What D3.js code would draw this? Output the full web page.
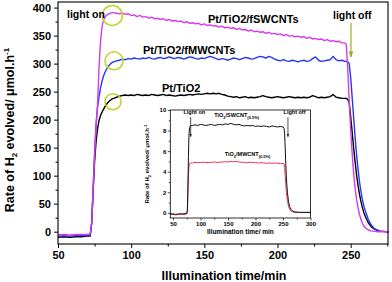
<!DOCTYPE html>
<html><head><meta charset="utf-8">
<script src="https://cdn.jsdelivr.net/npm/d3@7"></script>
<style>
body{margin:0;background:#fff;}
svg{display:block;font-family:"Liberation Sans",Arial,sans-serif;font-weight:bold;}
</style></head><body>
<svg id="c" width="392" height="282"></svg>
<script>
// ---------- main chart data ----------
const mainTime = [50,54,58,62,66,70,72,73,74,75,76,77,78,79,80,81,82,83,84,85,86,87,88,89,90,
92,94,96,98,100,102,104,106,108,110,
112,114,116,118,120,122,124,126,128,130,
132,134,136,138,140,142,144,146,148,150,
152,154,156,158,160,162,164,166,168,170,
172,174,176,178,180,182,184,186,188,190,
192,194,196,198,200,202,204,206,208,210,
212,214,216,218,220,222,224,226,228,230,
232,234,236,238,240,242,244,246,
247,248,249,250,251,252,253,254,255,256,257,258,259,260,262,264,266,268,270,272,274,276];

const ptTiO2 = [-10,-9,-10,-9,-9,-8,-8,15,72,125,160,183,198,207,213,218,223,227,230,233,235,237,238,239,240,
242,243,244,243,244,243,245,244,243,244,
243,245,244,243,244,245,243,244,243,242,
243,244,243,244,245,244,245,246,245,246,
247,246,247,246,247,245,244,242,241,240,
241,239,240,241,239,240,239,240,241,243,
241,240,239,240,241,240,239,240,241,240,
239,240,239,240,239,240,243,241,239,240,
239,240,241,245,240,239,238,238,
238,236,230,205,178,150,125,102,83,67,54,43,34,27,16,9,5,2.5,1,0.5,0,0];

const ptMWCNT = [-8,-7,-8,-7,-7,-7,-6,15,75,140,192,222,240,256,268,277,284,289,294,297,300,302,303,304,305,
306,308,307,309,308,310,309,308,310,309,
311,309,308,310,311,309,310,312,310,309,
311,310,308,310,312,311,309,308,310,309,
311,313,311,309,307,309,308,306,308,310,
309,307,309,311,310,308,309,311,313,312,
310,313,311,308,306,305,307,305,304,306,
305,303,305,306,304,305,309,312,306,304,
305,306,307,313,307,305,306,304,
304,303,300,275,240,205,170,138,112,90,72,57,46,37,22,12,6,3,1,0.5,0,0];

const ptSWCNT = [-6,-5,-6,-5,-5,-5,-4,15,75,135,185,225,290,338,364,377,383,386,388,389,390,391,391,390,390,
389,390,388,389,386,387,384,386,383,384,
381,383,380,381,379,380,377,379,376,377,
375,376,373,375,372,373,371,372,369,371,
368,369,367,368,365,367,364,365,363,364,
361,363,360,361,358,360,357,358,356,357,
354,356,353,354,352,353,350,352,349,350,
348,349,347,348,345,347,344,345,343,344,
341,343,340,341,339,340,337,337,
334,290,232,182,140,105,78,58,43,31,22,15,10,7,3,1.5,0.5,0,0,0,0,0];

const seriesNames = ["Pt/TiO2/fSWCNTs","Pt/TiO2/fMWCNTs","Pt/TiO2"];
const seriesColors = ["#d83ae8","#2339f5","#000000"];
const xTicks = [50,100,150,200,250];
const yTicks = [0,50,100,150,200,250,300,350,400];

// ---------- inset data ----------
const insetTime = [45,50,55,60,65,70,75,76,77,78,79,80,82,
85,90,95,100,105,110,115,120,125,130,135,140,145,150,155,160,165,170,175,180,185,190,195,200,205,210,215,220,225,230,235,240,245,250,
252,253,254,255,256,257,258,260,262,265,270,280,290,300];
const insetSWCNT = [-0.1,-0.1,-0.15,-0.1,-0.1,-0.1,-0.05,0.2,2.5,5.5,7.6,8.3,8.45,
8.5,8.55,8.5,8.6,8.55,8.5,8.55,8.6,8.5,8.55,8.6,8.55,8.65,8.6,8.7,8.6,8.55,8.6,8.5,8.45,8.5,8.45,8.5,8.4,8.45,8.4,8.45,8.4,8.35,8.45,8.4,8.35,8.4,8.35,
8.2,7.6,6.3,4.8,3.6,2.7,2.0,1.1,0.6,0.3,0.1,0.05,0.05,0.05];
const insetMWCNT = [-0.15,-0.15,-0.2,-0.15,-0.15,-0.15,-0.1,0.1,1.8,3.6,4.5,4.8,4.85,
4.85,4.9,4.88,4.9,4.92,4.9,4.88,4.92,4.95,4.9,4.92,4.95,4.97,4.95,5.0,4.97,5.0,4.95,4.92,4.9,4.88,4.92,4.9,4.88,4.85,4.88,4.85,4.82,4.85,4.82,4.85,4.82,4.8,4.82,
4.75,4.4,3.6,2.8,2.1,1.6,1.2,0.65,0.35,0.15,0.05,0.03,0.03,0.03];
const insetXTicks = [50,100,150,200,250,300];
const insetYTicks = [0,2,4,6,8,10];

// ---------- drawing ----------
const svg = d3.select("#c");
const M = {l:58, r:388, t:2, b:244};
const x = d3.scaleLinear().domain([50,275.5]).range([M.l,M.r]);
const y = d3.scaleLinear().domain([-22,410]).range([M.b,M.t]);

// axes
const xAxis = svg.append("g").attr("transform",`translate(0,${M.b})`)
  .call(d3.axisBottom(x).tickValues(xTicks).tickSize(4).tickPadding(3).tickFormat(d3.format("d")));
svg.append("g").attr("transform",`translate(0,${M.b})`)
  .call(d3.axisBottom(x).tickValues([75,125,175,225,275]).tickSize(2.5).tickFormat(""));
const yAxis = svg.append("g").attr("transform",`translate(${M.l},0)`)
  .call(d3.axisLeft(y).tickValues(yTicks).tickSize(4).tickPadding(3).tickFormat(d3.format("d")));
svg.append("g").attr("transform",`translate(${M.l},0)`)
  .call(d3.axisLeft(y).tickValues([25,75,125,175,225,275,325,375,-25].filter(v=>v>=-22)).tickSize(2.5).tickFormat(""));
svg.selectAll(".domain").remove();
svg.selectAll(".tick text").style("font-size","11px").style("font-weight","bold").attr("fill","#000");
svg.selectAll(".tick line").attr("stroke","#000");

// lines
const line = d3.line().x((d,i)=>x(mainTime[i])).y(d=>y(d));
const mainSeries = [ptTiO2, ptMWCNT, ptSWCNT];
const mainColors = ["#000000","#2339f5","#d83ae8"];
mainSeries.forEach((s,k)=>{
  svg.append("path").datum(s).attr("d",line).attr("fill","none")
    .attr("stroke",mainColors[k]).attr("stroke-width",1.4).attr("stroke-linejoin","round");
});

// frame
svg.append("rect").attr("x",M.l).attr("y",M.t).attr("width",M.r-M.l).attr("height",M.b-M.t)
  .attr("fill","none").attr("stroke","#000").attr("stroke-width",1.1);

// series labels
const labels = [
  {t:"Pt/TiO2/fSWCNTs", tx:208, v:372},
  {t:"Pt/TiO2/fMWCNTs", tx:143, v:317},
  {t:"Pt/TiO2", tx:162, v:250}
];
labels.forEach(L=>{
  svg.append("text").attr("x",L.tx).attr("y",y(L.v)).attr("font-size","11px").text(L.t);
});

// green circles
const green = "#c2d32c";
[[87.1,386,10],[88.3,305,9],[87.6,232,8]].forEach(c=>{
  svg.append("circle").attr("cx",x(c[0])).attr("cy",y(c[1])).attr("r",c[2])
    .attr("fill","none").attr("stroke",green).attr("stroke-width",1.6);
});
svg.append("text").attr("x",67).attr("y",18).attr("font-size","10.5px").text("light on");
svg.append("text").attr("x",333).attr("y",19).attr("font-size","10.5px").text("light off");
// arrow light off
const defs = svg.append("defs");
defs.append("marker").attr("id","ag").attr("viewBox","0 0 10 10").attr("refX",9).attr("refY",5)
  .attr("markerWidth",5).attr("markerHeight",5).attr("orient","auto")
  .append("path").attr("d","M0,1 L10,5 L0,9 Z").attr("fill","#9aab1e");
defs.append("marker").attr("id","ak").attr("viewBox","0 0 10 10").attr("refX",9).attr("refY",5)
  .attr("markerWidth",4).attr("markerHeight",4).attr("orient","auto")
  .append("path").attr("d","M0,1 L10,5 L0,9 Z").attr("fill","#222");
svg.append("line").attr("x1",x(250.2)).attr("x2",x(250.2)).attr("y1",y(373)).attr("y2",y(312))
  .attr("stroke","#9aab1e").attr("stroke-width",1.2).attr("marker-end","url(#ag)");

// axis titles
svg.append("text").attr("x",224).attr("y",280).attr("text-anchor","middle").attr("font-size","12.5px")
  .text("Illumination time/min");
const yt = svg.append("text").attr("transform","translate(14,130) rotate(-90)").attr("text-anchor","middle").attr("font-size","12.5px");
yt.append("tspan").text("Rate of H");
yt.append("tspan").attr("font-size","8px").attr("dy",3).text("2");
yt.append("tspan").attr("dy",-3).text(" evolved/ μmol.h");
yt.append("tspan").attr("font-size","8px").attr("dy",-5).text("-1");

// ---------- inset ----------
const I = {l:170.3, r:310.5, t:110, b:218};
const ix = d3.scaleLinear().domain([45,300]).range([I.l,I.r]);
const iy = d3.scaleLinear().domain([-0.5,10]).range([I.b,I.t]);
const ins = svg.append("g");
ins.append("rect").attr("x",I.l).attr("y",I.t).attr("width",I.r-I.l).attr("height",I.b-I.t).attr("fill","#fff");
const ixa = ins.append("g").attr("transform",`translate(0,${I.b})`)
  .call(d3.axisBottom(ix).tickValues(insetXTicks).tickSize(2.5).tickPadding(1.5).tickFormat(d3.format("d")));
ins.append("g").attr("transform",`translate(0,${I.b})`)
  .call(d3.axisBottom(ix).tickValues([75,125,175,225,275]).tickSize(1.5).tickFormat(""));
const iya = ins.append("g").attr("transform",`translate(${I.l},0)`)
  .call(d3.axisLeft(iy).tickValues(insetYTicks).tickSize(2.5).tickPadding(1.5).tickFormat(d3.format("d")));
ins.append("g").attr("transform",`translate(${I.l},0)`)
  .call(d3.axisLeft(iy).tickValues([1,3,5,7,9]).tickSize(1.5).tickFormat(""));
ins.selectAll(".domain").remove();
ins.selectAll(".tick text").style("font-size","6px").style("font-weight","bold").attr("fill","#000");
ins.selectAll(".tick line").attr("stroke","#000").attr("stroke-width",0.7);

const iline = d3.line().x((d,i)=>ix(insetTime[i])).y(d=>iy(d));
ins.append("path").datum(insetMWCNT).attr("d",iline).attr("fill","none").attr("stroke","#ef3350").attr("stroke-width",1);
ins.append("path").datum(insetSWCNT).attr("d",iline).attr("fill","none").attr("stroke","#111").attr("stroke-width",1);
ins.append("rect").attr("x",I.l).attr("y",I.t).attr("width",I.r-I.l).attr("height",I.b-I.t)
  .attr("fill","none").attr("stroke","#000").attr("stroke-width",0.8);

// inset annotations
ins.append("text").attr("x",ix(69)).attr("y",iy(9.6)).attr("font-size","5.5px").text("Light on");
ins.append("text").attr("x",ix(251)).attr("y",iy(9.6)).attr("font-size","5.5px").text("Light off");
ins.append("line").attr("x1",ix(82)).attr("x2",ix(82)).attr("y1",iy(9.3)).attr("y2",iy(7.4))
  .attr("stroke","#222").attr("stroke-width",0.8).attr("marker-end","url(#ak)");
ins.append("line").attr("x1",ix(259)).attr("x2",ix(259)).attr("y1",iy(9.3)).attr("y2",iy(7.4))
  .attr("stroke","#222").attr("stroke-width",0.8).attr("marker-end","url(#ak)");
function chem(x0,y0,base,sub){
  const t = ins.append("text").attr("x",x0).attr("y",y0).attr("font-size","5.5px");
  t.append("tspan").text("TiO");
  t.append("tspan").attr("font-size","4px").attr("dy",1.5).text("2");
  t.append("tspan").attr("dy",-1.5).text(base);
  t.append("tspan").attr("font-size","4px").attr("dy",1.5).text(sub);
}
chem(ix(125), iy(9.3), "/SWCNT", "(0.5%)");
chem(ix(144), iy(5.5), "/MWCNT", "(0.5%)");
ins.append("text").attr("x",(I.l+I.r)/2).attr("y",234).attr("text-anchor","middle").attr("font-size","6.5px")
  .text("Illumination time/ min");
const iyt = ins.append("text").attr("transform",`translate(149,164) rotate(-90)`).attr("text-anchor","middle").attr("font-size","6px");
iyt.append("tspan").text("Rate of H");
iyt.append("tspan").attr("font-size","4px").attr("dy",1.5).text("2");
iyt.append("tspan").attr("dy",-1.5).text(" evolved/ μmol.h");
iyt.append("tspan").attr("font-size","4px").attr("dy",-2.5).text("-1");
</script>
</body></html>
